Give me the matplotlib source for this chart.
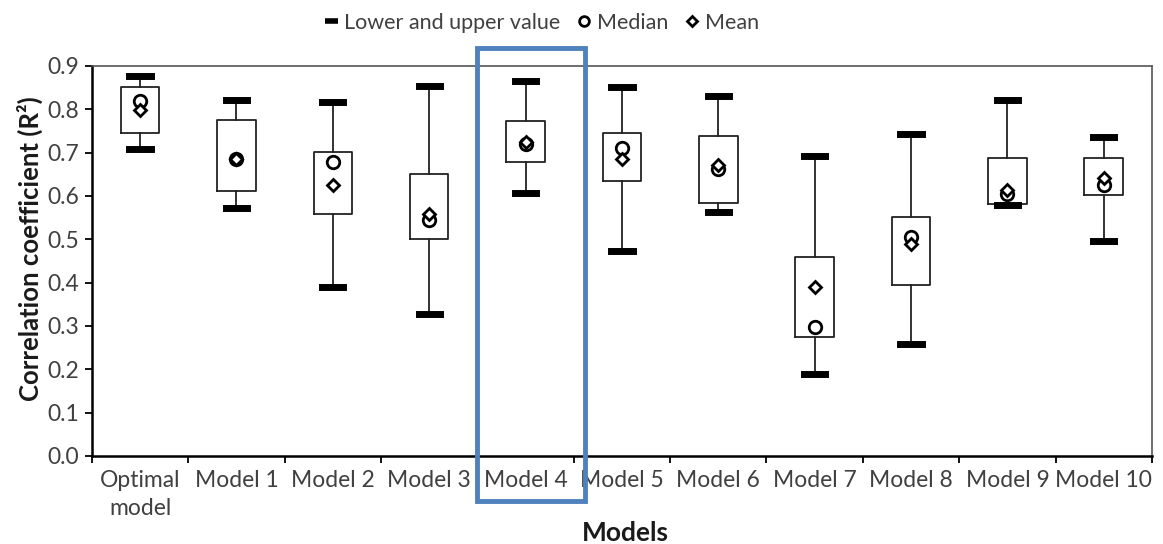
import matplotlib
matplotlib.use('Agg')
import matplotlib.pyplot as plt
from matplotlib.lines import Line2D
from matplotlib.patches import Rectangle

plt.rcParams['font.family'] = ['Lato', 'DejaVu Sans']

# 数据
models = ['Optimal\nmodel', 'Model 1', 'Model 2', 'Model 3', 'Model 4', 'Model 5',
          'Model 6', 'Model 7', 'Model 8', 'Model 9', 'Model 10']
lower = [0.708, 0.573, 0.390, 0.328, 0.606, 0.472, 0.562, 0.189, 0.259, 0.580, 0.496]
q1 = [0.746, 0.612, 0.558, 0.501, 0.677, 0.635, 0.583, 0.275, 0.395, 0.582, 0.602]
median = [0.818, 0.686, 0.678, 0.545, 0.720, 0.710, 0.662, 0.297, 0.505, 0.605, 0.626]
mean = [0.797, 0.685, 0.625, 0.557, 0.725, 0.685, 0.672, 0.389, 0.489, 0.614, 0.642]
q3 = [0.850, 0.774, 0.701, 0.651, 0.773, 0.744, 0.737, 0.460, 0.552, 0.688, 0.687]
upper = [0.877, 0.822, 0.817, 0.854, 0.864, 0.851, 0.831, 0.693, 0.742, 0.820, 0.735]
highlight = 4  # Model 4 用蓝框标出

text_color = '#404040'

stats = []
for i in range(len(models)):
    stats.append({'whislo': lower[i], 'q1': q1[i], 'med': median[i], 'mean': mean[i],
                  'q3': q3[i], 'whishi': upper[i], 'fliers': []})

fig, ax = plt.subplots(figsize=(11.63, 5.44), dpi=100)
fig.subplots_adjust(left=0.079, right=0.9905, bottom=0.162, top=0.879)

pos = list(range(len(models)))
ax.bxp(stats, positions=pos, widths=0.4, capwidths=0.22, showmeans=True,
       boxprops=dict(color='#222222', linewidth=1.3),
       whiskerprops=dict(color='#222222', linewidth=1.3),
       capprops=dict(color='black', linewidth=5),
       medianprops=dict(linestyle='none'),
       meanprops=dict(marker='D', markerfacecolor='white', markeredgecolor='black',
                      markersize=6, markeredgewidth=2))
ax.plot(pos, median, linestyle='none', marker='o', markerfacecolor='none',
        markeredgecolor='black', markersize=9, markeredgewidth=2)

ax.set_xlim(-0.5, len(models) - 0.5)
ax.set_ylim(0, 0.9)
ax.set_yticks([i / 10 for i in range(10)])
ax.set_yticklabels([f'{i / 10:.1f}' for i in range(10)])
ax.set_xticks(pos)
ax.set_xticklabels(models, linespacing=1.4)
ax.set_xticks([p - 0.5 for p in pos] + [len(models) - 0.5], minor=True)
ax.tick_params(axis='x', which='major', length=0, pad=10, labelsize=16.5, labelcolor=text_color)
ax.tick_params(axis='x', which='minor', length=5, width=1.3, direction='out')
ax.tick_params(axis='y', length=5, width=1.3, pad=4, labelsize=16.5, labelcolor=text_color)

for s in ['top', 'right']:
    ax.spines[s].set_color('#555555')
    ax.spines[s].set_linewidth(1.2)
for s in ['left', 'bottom']:
    ax.spines[s].set_color('black')
    ax.spines[s].set_linewidth(1.8)

ax.set_ylabel('Correlation coefficient (R²)', fontsize=18.5, fontweight='bold',
              color='#1a1a1a', va='center')
ax.yaxis.set_label_coords(-0.0585, 0.531)
ax.set_xlabel('Models', fontsize=19, fontweight='bold', color='#1a1a1a', va='center')
ax.xaxis.set_label_coords(0.503, -0.197)

# 高亮框
ax.add_patch(Rectangle((highlight - 0.505, -0.104), 1.12, 1.046, fill=False,
                       edgecolor='#4F81BD', linewidth=3.5, clip_on=False, zorder=5))

handles = [
    Line2D([], [], color='black', linewidth=4, solid_capstyle='butt'),
    Line2D([], [], linestyle='none', marker='o', markerfacecolor='none',
           markeredgecolor='black', markersize=7, markeredgewidth=2),
    Line2D([], [], linestyle='none', marker='D', markerfacecolor='white',
           markeredgecolor='black', markersize=5, markeredgewidth=2),
]
leg = fig.legend(handles, ['Lower and upper value', 'Median', 'Mean'], loc='upper center',
                 bbox_to_anchor=(0.466, 1.012), ncol=3, frameon=False, fontsize=15.5,
                 handlelength=0.6, handletextpad=0.3, columnspacing=0.8)
for t in leg.get_texts():
    t.set_color(text_color)

plt.savefig('out.png', dpi=100)
